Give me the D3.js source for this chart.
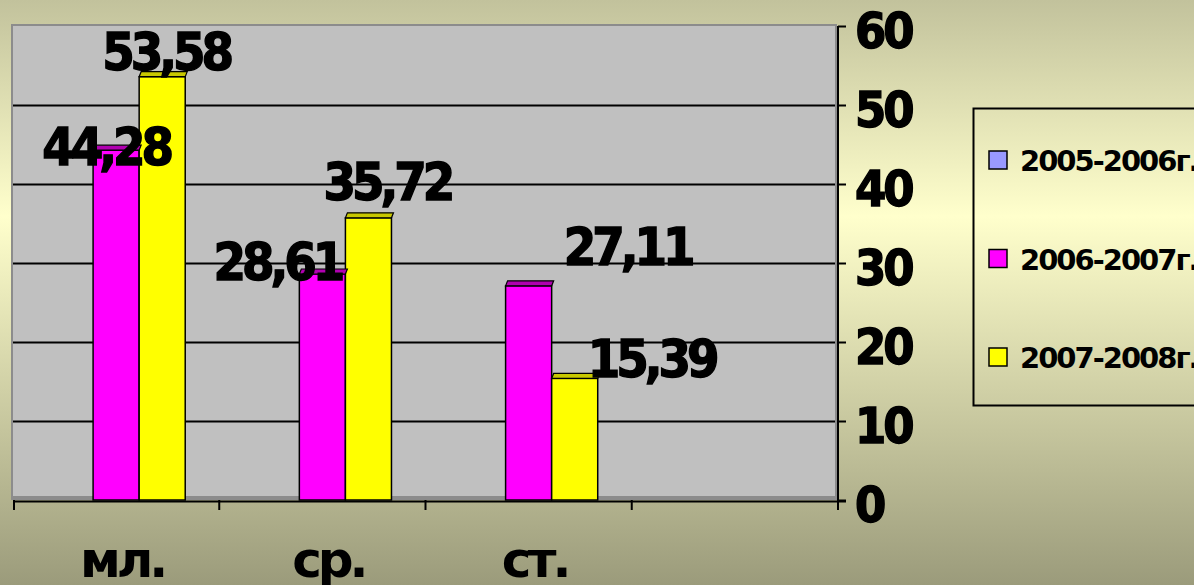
<!DOCTYPE html>
<html>
<head>
<meta charset="utf-8">
<script src="https://cdn.jsdelivr.net/npm/d3@7"></script>
<style>
  html, body { margin: 0; padding: 0; }
  body { width: 1194px; height: 585px; overflow: hidden; }
  text { font-family: "DejaVu Sans", sans-serif; font-weight: bold; }
  .num { font-family: "DejaVu Sans Condensed", "DejaVu Sans", sans-serif; stroke: #000; stroke-width: 1.4px; }
</style>
</head>
<body>
<div id="chart"></div>
<script>
var categories = ["мл.", "ср.", "ст.", ""];
var seriesNames = ["2005-2006г.", "2006-2007г.", "2007-2008г."];
var s2005 = [null, null, null, null];
var s2006 = [44.28, 28.61, 27.11, null];
var s2007 = [53.58, 35.72, 15.39, null];
var yTicks = [0, 10, 20, 30, 40, 50, 60];

// hand placed label offsets (from bar centre / bar top), as in the original
var labelNudge = [
  [null, null, null],
  [[-10, 15], [-45, 6], [99, -21]],
  [[4, -7], [19, -18], [77, -1]]
];

var colors = ["#9999ff", "#ff00ff", "#ffff00"];
var capColors = ["#6b6bb3", "#b000b0", "#c8c800"];

var render = function() {
  var width = 1194, height = 585;
  var plot = { left: 13, right: 838, top: 26, bottom: 500 };

  d3.select("#chart").html("");

  var svg = d3.select("#chart")
    .append("svg")
    .attr("width", width)
    .attr("height", height);

  var grad = svg.append("defs").append("linearGradient")
    .attr("id", "bg").attr("x1", 0).attr("y1", 0).attr("x2", 0).attr("y2", 1);
  grad.append("stop").attr("offset", "0%").attr("stop-color", "#c2c29c");
  grad.append("stop").attr("offset", "37%").attr("stop-color", "#ffffcc");
  grad.append("stop").attr("offset", "100%").attr("stop-color", "#9b9b7b");

  svg.append("rect").attr("width", width).attr("height", height).attr("fill", "url(#bg)");

  var y = d3.scaleLinear().domain([0, 60]).range([plot.bottom, plot.top]);
  var x0 = d3.scaleBand().domain(d3.range(categories.length))
    .range([plot.left, plot.right]).paddingInner(0.33).paddingOuter(0.165);
  var x1 = d3.scaleBand().domain(d3.range(seriesNames.length)).range([0, x0.bandwidth()]);

  // walls
  svg.append("rect")
    .attr("x", plot.left - 2).attr("y", plot.top - 2)
    .attr("width", plot.right - plot.left + 1).attr("height", plot.bottom - plot.top + 2)
    .attr("fill", "#8c8c8c");
  svg.append("rect")
    .attr("x", plot.left).attr("y", plot.top)
    .attr("width", plot.right - plot.left - 3).attr("height", plot.bottom - plot.top - 4)
    .attr("fill", "#c0c0c0");
  svg.append("rect")
    .attr("x", plot.left).attr("y", plot.bottom - 4)
    .attr("width", plot.right - plot.left).attr("height", 4)
    .attr("fill", "#8c8c8c");

  // gridlines
  svg.append("g").selectAll("line")
    .data(yTicks.filter(function(d) { return d > 0 && d < 60; }))
    .enter().append("line")
    .attr("x1", plot.left).attr("x2", plot.right - 3)
    .attr("y1", function(d) { return Math.round(y(d)) + 0.5; })
    .attr("y2", function(d) { return Math.round(y(d)) + 0.5; })
    .attr("stroke", "#000").attr("stroke-width", 2);

  // bars
  var all = [s2005, s2006, s2007];
  var bars = [];
  all.forEach(function(vals, si) {
    vals.forEach(function(v, ci) {
      if (v === null) { return; }
      bars.push({ s: si, c: ci, v: v });
    });
  });

  var g = svg.append("g");
  var bx = function(d) { return x0(d.c) + x1(d.s); };
  g.selectAll(".bar").data(bars).enter().append("rect")
    .attr("x", bx)
    .attr("y", function(d) { return y(d.v); })
    .attr("width", x1.bandwidth())
    .attr("height", function(d) { return plot.bottom - y(d.v); })
    .attr("fill", function(d) { return colors[d.s]; })
    .attr("stroke", "#000").attr("stroke-width", 1.5);
  g.selectAll(".cap").data(bars).enter().append("polygon")
    .attr("points", function(d) {
      var l = bx(d), r = l + x1.bandwidth(), t = y(d.v);
      return [[l, t], [r, t], [r + 2, t - 5], [l + 2, t - 5]].join(" ");
    })
    .attr("fill", function(d) { return capColors[d.s]; })
    .attr("stroke", "#000").attr("stroke-width", 1.2);

  // axes
  var yAxis = d3.axisRight(y).tickValues(yTicks).tickSize(8).tickPadding(9);
  var ya = svg.append("g").attr("transform", "translate(" + plot.right + ",0)").call(yAxis);
  ya.select(".domain").attr("stroke", "#000").attr("stroke-width", 2)
    .attr("d", "M0," + plot.top + "V" + (plot.bottom + 10));
  ya.selectAll(".tick line").attr("stroke", "#000").attr("stroke-width", 2);
  ya.selectAll(".tick text")
    .attr("class", "num")
    .attr("fill", "#000").attr("dy", "0.42em")
    .style("font-size", "50px").style("letter-spacing", "-3px");
  ya.attr("font-family", null).attr("font-size", null);

  var xa = svg.append("g");
  xa.append("line")
    .attr("x1", plot.left).attr("x2", plot.right + 8)
    .attr("y1", plot.bottom + 1.5).attr("y2", plot.bottom + 1.5)
    .attr("stroke", "#000").attr("stroke-width", 2);
  var edges = x0.domain().map(function(c) { return x0(c) - x0.step() * x0.paddingInner() / 2; });
  edges.push(plot.right);
  edges[0] = plot.left + 1;
  xa.selectAll(".xt").data(edges).enter().append("line")
    .attr("x1", function(d) { return d; }).attr("x2", function(d) { return d; })
    .attr("y1", plot.bottom).attr("y2", plot.bottom + 10)
    .attr("stroke", "#000").attr("stroke-width", 2);
  xa.selectAll(".xl").data(categories).enter().append("text")
    .attr("x", function(d, i) { return x0(i) + x0.bandwidth() / 2 + 6; })
    .attr("y", 577)
    .attr("text-anchor", "middle")
    .style("font-size", "50px").style("letter-spacing", "-4px")
    .text(function(d) { return d; });

  // data labels
  var fmt = function(v) { return d3.format(".2f")(v).replace(".", ","); };
  g.selectAll(".lbl").data(bars).enter().append("text")
    .attr("class", "num")
    .attr("x", function(d) { return bx(d) + x1.bandwidth() / 2 + labelNudge[d.s][d.c][0]; })
    .attr("y", function(d) { return y(d.v) + labelNudge[d.s][d.c][1]; })
    .attr("text-anchor", "middle")
    .style("font-size", "52px").style("letter-spacing", "-4px")
    .text(function(d) { return fmt(d.v); });

  // legend
  var lg = svg.append("g");
  lg.append("rect")
    .attr("x", 973.5).attr("y", 108.5).attr("width", 240).attr("height", 297)
    .attr("fill", "none").attr("stroke", "#000").attr("stroke-width", 2);
  var items = lg.selectAll(".li").data(seriesNames).enter().append("g")
    .attr("transform", function(d, i) { return "translate(989," + (160 + i * 98.5) + ")"; });
  items.append("rect")
    .attr("x", 0).attr("y", -9).attr("width", 18).attr("height", 18)
    .attr("fill", function(d, i) { return colors[i]; })
    .attr("stroke", "#000").attr("stroke-width", 1.5);
  items.append("text")
    .attr("x", 31).attr("y", 11)
    .style("font-size", "29px").style("letter-spacing", "-2px")
    .text(function(d) { return d; });
};

render();
</script>
</body>
</html>
